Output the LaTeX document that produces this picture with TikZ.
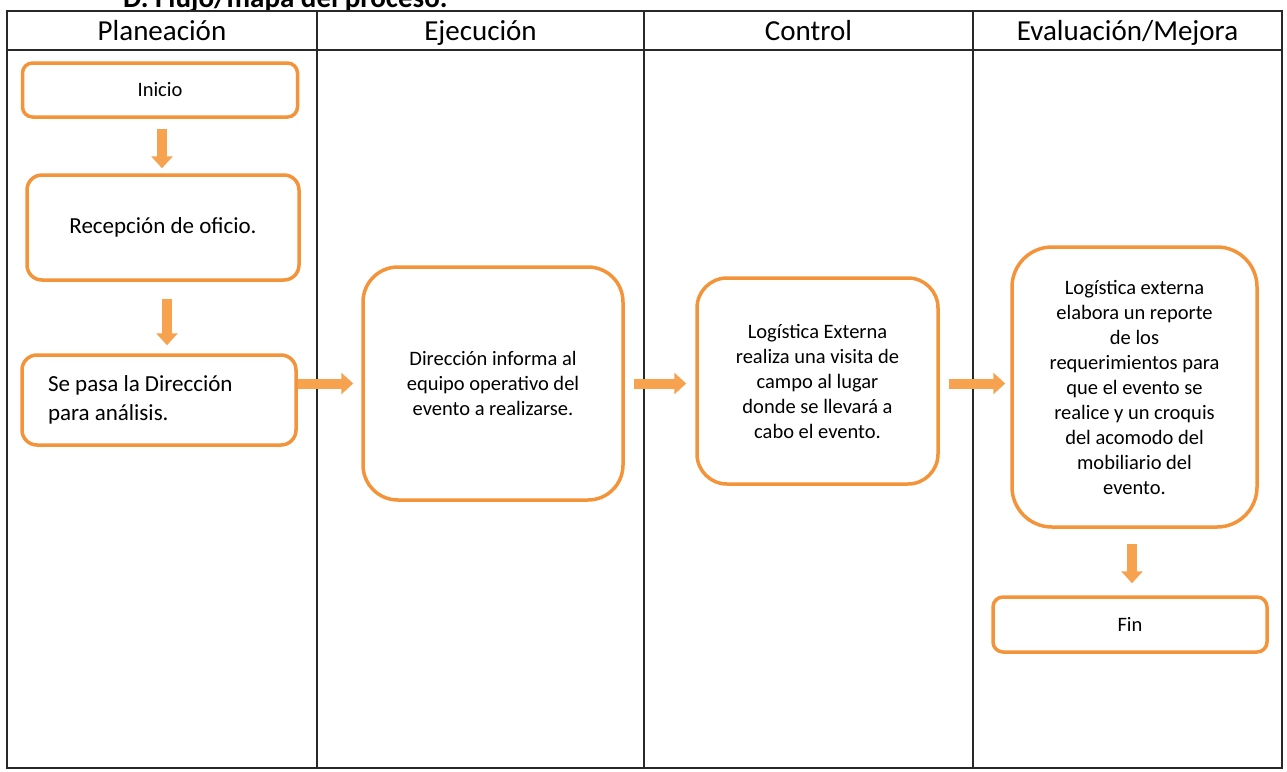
\documentclass[tikz,border=0pt]{standalone}
\usepackage{fontspec}
\setmainfont{Carlito}
\usetikzlibrary{arrows.meta}
\definecolor{flowline}{RGB}{244,148,58}
\definecolor{flowfill}{RGB}{246,162,78}
\definecolor{laneline}{RGB}{40,40,40}
\begin{document}
\begin{tikzpicture}[x=1pt,y=-1pt,
  lane/.style={line width=1.4pt, draw=laneline},
  lanehead/.style={font=\fontsize{29}{34}\selectfont, inner sep=0pt, anchor=base},
  box/.style={draw=flowline, line width=3.5pt, fill=white, align=center, inner sep=0pt},
  body/.style={font=\fontsize{20.5}{25}\selectfont},
  bigbody/.style={font=\fontsize{23}{29}\selectfont},
  flowarrow/.style={draw=flowfill, line width=10pt, -{Triangle[width=21pt,length=12pt]}}
]
\clip (0,0) rectangle (1287,771);
\fill[white] (0,0) rectangle (1287,771);

% section title, cut by the page edge
\node[anchor=base west, inner sep=0pt, font=\bfseries\fontsize{29}{34}\selectfont] (title) at (123,7) {D. Flujo/mapa del proceso.};

% swimlane table
\draw[lane] (7,11) rectangle (1282,768);
\draw[lane] (7,50) -- (1282,50);
\draw[lane] (317,11) -- (317,768);
\draw[lane] (644,11) -- (644,768);
\draw[lane] (973,11) -- (973,768);

\node[lanehead] (hplan) at (162,40) {Planeación};
\node[lanehead] (hejec) at (480.5,40) {Ejecución};
\node[lanehead] (hcont) at (808.5,40) {Control};
\node[lanehead] (heval) at (1127.5,40) {Evaluación/Mejora};

% process steps
\node[box, body, rounded corners=10pt, minimum width=275pt, minimum height=54pt] (inicio) at (160,90) {Inicio};
\node[box, bigbody, rounded corners=15pt, minimum width=272pt, minimum height=105pt] (recep) at (163,227.5) {Recepción de oficio.};
\node[box, bigbody, rounded corners=15pt, minimum height=90pt, text width=222pt, inner xsep=26pt, align=flush left] (sepasa) at (159,400) {Se pasa la Dirección\\para análisis.};
\node[box, body, rounded corners=35pt, minimum width=260pt, minimum height=233pt] (dir) at (493,383.5) {Dirección informa al\\equipo operativo del\\evento a realizarse.};
\node[box, body, rounded corners=30pt, minimum width=241pt, minimum height=206pt] (log) at (817.5,381) {Logística Externa\\realiza una visita de\\campo al lugar\\donde se llevará a\\cabo el evento.};
\node[box, body, rounded corners=40pt, minimum width=245pt, minimum height=280pt] (eval) at (1134.5,387) {Logística externa\\elabora un reporte\\de los\\requerimientos para\\que el evento se\\realice y un croquis\\del acomodo del\\mobiliario del\\evento.};
\node[box, body, rounded corners=10pt, minimum width=274pt, minimum height=55pt] (fin) at (1130,624.5) {Fin};

% connectors
\draw[flowarrow, shorten <=10pt, shorten >=5pt] ([xshift=2pt]inicio.south) -- ([xshift=2pt]inicio.south |- recep.north);
\draw[flowarrow, shorten <=17pt, shorten >=8pt] ([xshift=4pt]recep.south) -- ([xshift=4pt]recep.south |- sepasa.north);
\draw[flowarrow, shorten >=8pt] (sepasa.east |- dir.west) -- (dir.west);
\draw[flowarrow, shorten <=9pt, shorten >=9pt] (dir.east) -- (dir.east -| log.west);
\draw[flowarrow, shorten <=9pt, shorten >=5pt] (log.east |- dir.east) -- (eval.west |- dir.east);
\draw[flowarrow, shorten <=15pt, shorten >=12pt] ([xshift=-2.5pt]eval.south) -- ([xshift=-2.5pt]eval.south |- fin.north);
\end{tikzpicture}
\end{document}
